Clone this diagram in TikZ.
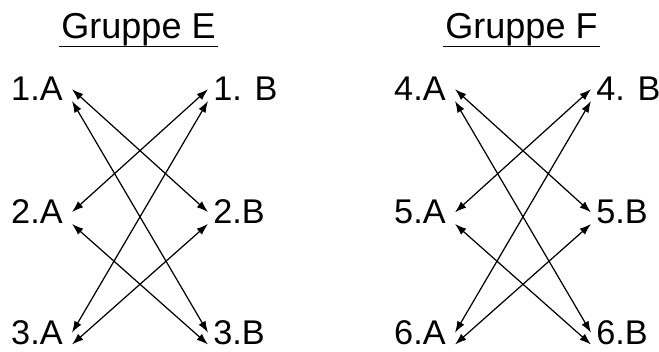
\documentclass[tikz,border=0pt]{standalone}
\usepackage{fontspec}
\setmainfont{Liberation Sans}
\usetikzlibrary{arrows.meta}

\begin{document}
\begin{tikzpicture}[>={Latex[length=2.3mm,width=1.6mm]},
    every node/.style={font=\fontsize{19.5}{23}\selectfont},
    lnode/.style={anchor=base east, inner xsep=0.18cm},
    rnode/.style={anchor=base west, inner xsep=0.1cm},
    title/.style={anchor=base, inner xsep=0.05cm, font=\fontsize{20.5}{24}\selectfont}]
    \useasboundingbox (0,0) rectangle (13.18,7.04);

    % Gruppe E
    \node[title] (tE) at (2.77, 6.26) {Gruppe E};
    \draw[line width=0.9pt] ([yshift=-0.15cm]tE.base west) -- ([yshift=-0.15cm]tE.base east);
    \node[lnode] (A1) at (1.44, 5.02) {1.A};
    \node[lnode] (A2) at (1.44, 2.56) {2.A};
    \node[lnode] (A3) at (1.44, 0.15) {3.A};
    \node[rnode] (B1) at (4.16, 5.02) {1. B};
    \node[rnode] (B2) at (4.16, 2.56) {2.B};
    \node[rnode] (B3) at (4.16, 0.15) {3.B};
    \draw[<->, line width=0.7pt] (A1.east) -- (B2.west);
    \draw[<->, line width=0.7pt] (A1.base east) -- (B3.west);
    \draw[<->, line width=0.7pt] (B1.west) -- (A2.east);
    \draw[<->, line width=0.7pt] (B1.base west) -- (A3.east);
    \draw[<->, line width=0.7pt] (A2.base east) -- (B3.base west);
    \draw[<->, line width=0.7pt] (B2.base west) -- (A3.base east);

    % Gruppe F
    \node[title] (tF) at (10.43, 6.26) {Gruppe F};
    \draw[line width=0.9pt] ([yshift=-0.15cm]tF.base west) -- ([yshift=-0.15cm]tF.base east);
    \node[lnode] (A4) at (9.10, 5.02) {4.A};
    \node[lnode] (A5) at (9.10, 2.56) {5.A};
    \node[lnode] (A6) at (9.10, 0.15) {6.A};
    \node[rnode] (B4) at (11.82, 5.02) {4. B};
    \node[rnode] (B5) at (11.82, 2.56) {5.B};
    \node[rnode] (B6) at (11.82, 0.15) {6.B};
    \draw[<->, line width=0.7pt] (A4.east) -- (B5.west);
    \draw[<->, line width=0.7pt] (A4.base east) -- (B6.west);
    \draw[<->, line width=0.7pt] (B4.west) -- (A5.east);
    \draw[<->, line width=0.7pt] (B4.base west) -- (A6.east);
    \draw[<->, line width=0.7pt] (A5.base east) -- (B6.base west);
    \draw[<->, line width=0.7pt] (B5.base west) -- (A6.base east);
  \end{tikzpicture}
\end{document}
